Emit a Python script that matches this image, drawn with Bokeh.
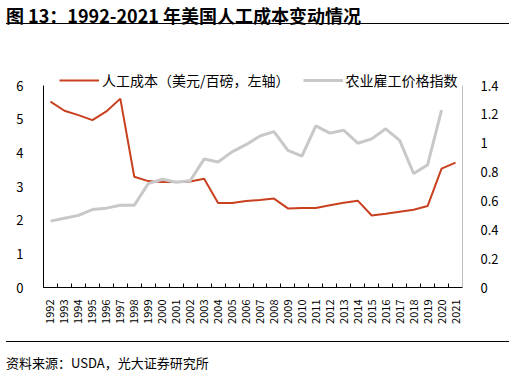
from bokeh.plotting import figure
from bokeh.models import (Range1d, LinearAxis, FixedTicker, Legend, LegendItem, Div)
from bokeh.layouts import column
from bokeh.embed import file_html
from bokeh.resources import INLINE
import math

years = list(range(1992, 2022))
labor_cost = [5.52, 5.25, 5.12, 4.97, 5.23, 5.61, 3.29, 3.16, 3.13, 3.13,
              3.15, 3.23, 2.51, 2.51, 2.57, 2.60, 2.64, 2.35, 2.36, 2.36,
              2.44, 2.52, 2.58, 2.14, 2.19, 2.25, 2.31, 2.42, 3.53, 3.71]
wage_index = [0.46, 0.48, 0.50, 0.54, 0.55, 0.57, 0.57, 0.72, 0.75, 0.73,
              0.74, 0.89, 0.87, 0.94, 0.99, 1.05, 1.08, 0.95, 0.91, 1.12,
              1.07, 1.09, 1.00, 1.03, 1.10, 1.02, 0.79, 0.85, 1.23, float("nan")]
left_ticks = [0, 1, 2, 3, 4, 5, 6]
right_ticks = [0, 0.2, 0.4, 0.6, 0.8, 1.0, 1.2, 1.4]
right_labels = ["0", "0.2", "0.4", "0.6", "0.8", "1", "1.2", "1.4"]

FONT = "Noto Sans CJK SC"
RED = "#c9401f"
GRAY = "#c8c8c8"

# frame is 222 px tall; the axes themselves span the lower 202 px
HEADROOM = 222 / 202

title_div = Div(
    text=f'<div style="font-family:\'{FONT}\';font-weight:bold;font-size:18px;line-height:22px;'
         f'width:503px;height:24px;padding-top:4px;margin-left:6px;border-bottom:1.5px solid #000;color:#000;">'
         f'图 13：1992-2021 年美国人工成本变动情况</div>',
    width=510, height=31, margin=0)

p = figure(width=505, height=304, output_backend="svg", toolbar_location=None,
           x_range=Range1d(years[0] - 0.5, years[-1] + 0.5),
           y_range=Range1d(0, left_ticks[-1] * HEADROOM),
           min_border_left=43, min_border_right=43, min_border_top=34, min_border_bottom=48,
           y_axis_location=None, x_axis_location=None)
p.outline_line_color = None
p.xgrid.visible = False
p.ygrid.visible = False
p.background_fill_color = None
p.border_fill_color = None

p.extra_y_ranges = {"right": Range1d(0, right_ticks[-1] * HEADROOM)}

xaxis = LinearAxis(ticker=FixedTicker(ticks=years, minor_ticks=[y + 0.5 for y in [years[0] - 1] + years]),
                   major_label_overrides={y: str(y) for y in years})
xaxis.major_label_orientation = math.pi / 2
xaxis.major_tick_line_color = None
xaxis.minor_tick_in = 4
xaxis.minor_tick_out = 0
xaxis.minor_tick_line_color = "#000000"
xaxis.axis_line_color = "#000000"
xaxis.major_label_text_font = FONT
xaxis.major_label_text_font_size = "11px"
xaxis.major_label_text_color = "#000000"
xaxis.major_label_standoff = 6
p.add_layout(xaxis, "below")

laxis = LinearAxis(ticker=FixedTicker(ticks=left_ticks), bounds=(left_ticks[0], left_ticks[-1]))
laxis.major_tick_line_color = None
laxis.minor_tick_line_color = None
laxis.axis_line_color = "#000000"
laxis.major_label_text_font = FONT
laxis.major_label_text_font_size = "13px"
laxis.major_label_text_color = "#000000"
laxis.major_label_standoff = 14
p.add_layout(laxis, "left")

raxis = LinearAxis(y_range_name="right", ticker=FixedTicker(ticks=right_ticks),
                   bounds=(right_ticks[0], right_ticks[-1]),
                   major_label_overrides={t: l for t, l in zip(right_ticks, right_labels)})
raxis.major_tick_line_color = None
raxis.minor_tick_line_color = None
raxis.axis_line_color = "#bfbfbf"
raxis.major_label_text_font = FONT
raxis.major_label_text_font_size = "13px"
raxis.major_label_text_color = "#000000"
raxis.major_label_standoff = 12
p.add_layout(raxis, "right")

r_red = p.line(years, labor_cost, line_color=RED, line_width=2)
r_gray = p.line(years, wage_index, line_color=GRAY, line_width=3, y_range_name="right")

legend = Legend(items=[LegendItem(label="人工成本（美元/百磅，左轴）", renderers=[r_red]),
                       LegendItem(label="农业雇工价格指数", renderers=[r_gray])],
                orientation="horizontal", location=(16, 196))
legend.label_text_font = FONT
legend.label_text_font_size = "14px"
legend.label_text_color = "#000000"
legend.glyph_width = 40
legend.glyph_height = 22
legend.label_height = 22
legend.label_standoff = 3
legend.spacing = 13
legend.padding = 0
legend.margin = 0
legend.border_line_color = None
legend.background_fill_alpha = 0
p.add_layout(legend)

src_div = Div(
    text=f'<div style="font-family:\'{FONT}\';font-size:13px;line-height:18px;width:503px;margin-left:6px;'
         f'border-top:1.5px solid #000;padding-top:12px;color:#000;">资料来源：USDA，光大证券研究所</div>',
    width=510, height=34, margin=(6, 0, 0, 0))

layout = column(title_div, p, src_div, spacing=0)
open("out.html", "w").write(file_html(layout, INLINE))
